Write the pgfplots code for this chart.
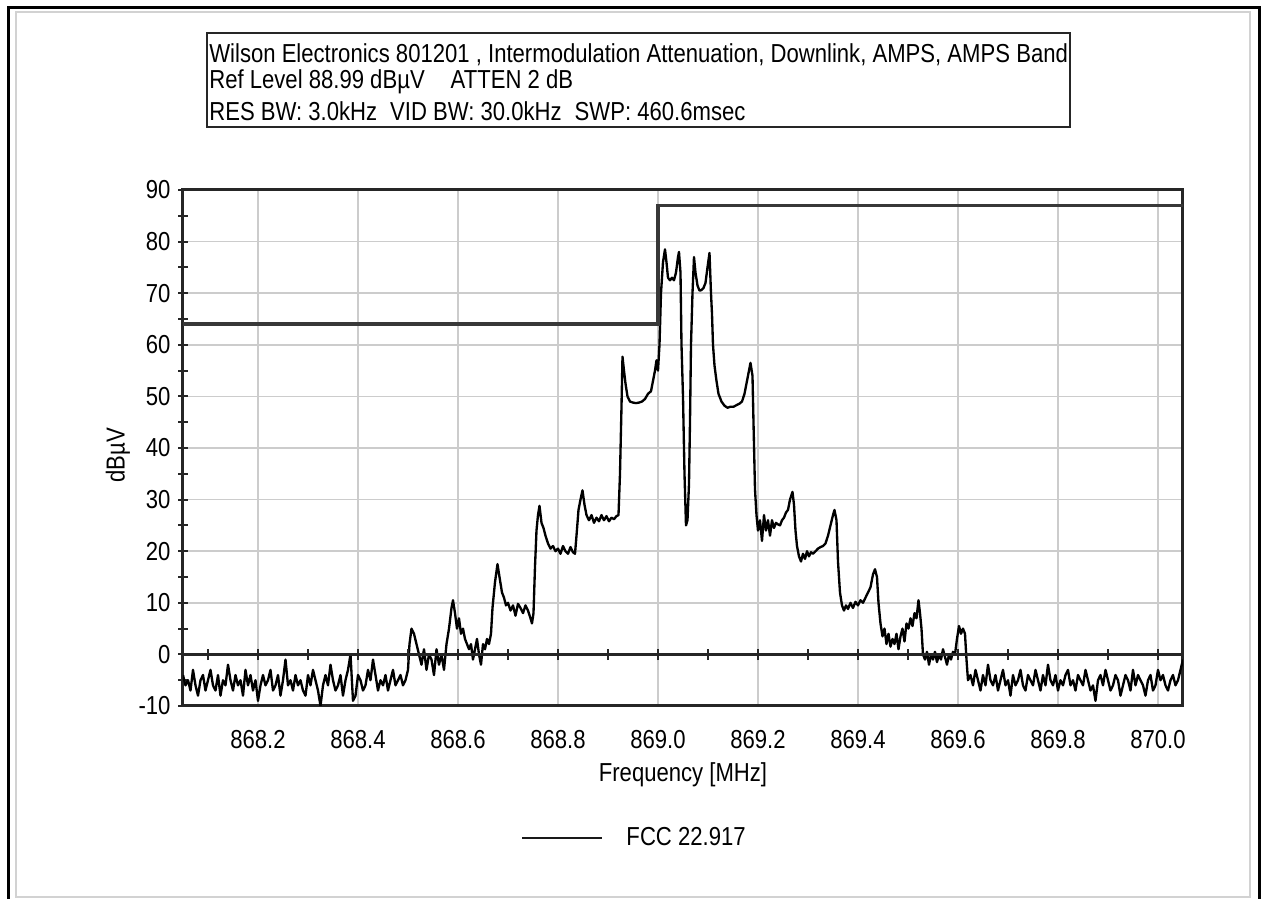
\documentclass[border=0pt]{standalone}
\usepackage{pgfplots}
\pgfplotsset{compat=1.18}
\usepackage{pgfplotstable}
\usepackage{fontspec}
\setmainfont{Liberation Sans}[FakeStretch=0.85]
\newcommand\F{\fontsize{15.6pt}{18.5pt}\selectfont}

\pgfplotstableread{
f v
868.050 -4
868.055 -6
868.060 -5
868.065 -7
868.070 -3
868.075 -6
868.080 -8
868.085 -5
868.090 -4
868.095 -7
868.100 -5
868.105 -3
868.110 -6
868.115 -7
868.120 -4
868.125 -8
868.130 -5
868.135 -6
868.140 -2
868.145 -5
868.150 -7
868.155 -4
868.160 -6
868.165 -5
868.170 -8
868.175 -3
868.180 -6
868.185 -4
868.190 -7
868.195 -5
868.200 -9
868.205 -6
868.210 -4
868.215 -6
868.220 -5
868.225 -3
868.230 -7
868.235 -6
868.240 -4
868.245 -8
868.250 -5
868.255 -1
868.260 -6
868.265 -5
868.270 -7
868.275 -4
868.280 -6
868.285 -5
868.290 -7
868.295 -8
868.300 -4
868.305 -6
868.310 -3
868.315 -5
868.320 -7
868.325 -10
868.330 -6
868.335 -4
868.340 -6
868.345 -2
868.350 -5
868.355 -7
868.360 -6
868.365 -4
868.370 -8
868.375 -5
868.380 -3
868.385 0
868.390 -9
868.395 -8
868.400 -4
868.405 -5
868.410 -7
868.415 -6
868.420 -3
868.425 -5
868.430 -1
868.435 -4
868.440 -7
868.445 -5
868.450 -6
868.455 -4
868.460 -7
868.465 -5
868.470 -3
868.475 -6
868.480 -5
868.485 -4
868.490 -6
868.495 -5
868.500 -3
868.503 2
868.507 5
868.512 4
868.517 2
868.522 0
868.527 -2
868.532 1
868.537 -3
868.542 0
868.547 -1
868.552 -4
868.557 1
868.562 -2
868.567 0
868.572 -3
868.577 2
868.582 5
868.587 9
868.590 10.5
868.594 8
868.598 5
868.602 7
868.606 4
868.610 5
868.614 3
868.618 2
868.622 1
868.626 2
868.630 -1
868.634 1
868.638 3
868.642 0
868.646 -2
868.650 2
868.654 1
868.658 3
868.662 2
868.666 4
868.669 9
868.674 14
868.679 17.5
868.683 15
868.688 12
868.692 11
868.696 9.5
868.700 10
868.705 8.5
868.710 9.5
868.715 7.5
868.720 9.8
868.725 9
868.730 8
868.735 9.5
868.740 8.5
868.745 7
868.748 6
868.751 8
868.754 17
868.757 24
868.760 27
868.763 28.8
868.767 25.5
868.771 24.5
868.775 23
868.780 21.5
868.785 20.5
868.790 21
868.795 20
868.800 20.5
868.805 19.5
868.810 21
868.815 20
868.820 19.5
868.825 20.8
868.830 19.8
868.834 19.5
868.837 23
868.841 28
868.845 30
868.849 31.8
868.853 29
868.857 27
868.862 26
868.867 27
868.872 25.5
868.877 26.5
868.882 25.8
868.887 27
868.892 26
868.897 26.8
868.902 25.8
868.907 26.5
868.912 26.2
868.917 26.8
868.921 27
868.924 35
868.927 48
868.929 57.7
868.932 55
868.935 52.5
868.939 50
868.944 49
868.950 48.8
868.956 48.7
868.962 48.8
868.968 49
868.974 49.5
868.980 50.5
868.986 51
868.990 53
868.994 55
868.997 57
869.000 55
869.003 60
869.006 70
869.010 76
869.014 78.5
869.017 76
869.020 73
869.024 72.5
869.028 73
869.032 72.5
869.036 74
869.040 77
869.042 78
869.045 74
869.047 60
869.050 50
869.053 35
869.056 25
869.059 26
869.062 33
869.064 45
869.066 60
869.069 70
869.072 77
869.075 74
869.079 71.5
869.083 70.5
869.087 70.6
869.091 71
869.095 72
869.099 75
869.103 77.8
869.106 70
869.108 66
869.110 60
869.113 56
869.117 53
869.121 50.5
869.127 49
869.133 48.2
869.139 47.8
869.145 48
869.151 48
869.157 48.3
869.163 48.6
869.168 49
869.173 50.5
869.178 53
869.182 55
869.185 56.5
869.189 54
869.191 45
869.194 32
869.197 27
869.200 24
869.204 26
869.208 22
869.212 27
869.216 24
869.220 26
869.224 23
869.228 26
869.232 24.5
869.236 25.5
869.240 25.2
869.244 25
869.248 26
869.252 26.5
869.256 27.5
869.260 28
869.264 30
869.269 31.5
869.272 29
869.275 24
869.278 21
869.282 19
869.286 18
869.290 19.5
869.294 18.5
869.298 20
869.302 19
869.306 19.8
869.310 19.5
869.315 20
869.320 20.5
869.325 20.8
869.330 21
869.335 21.5
869.340 23
869.345 25
869.350 27
869.353 28
869.357 26
869.360 18
869.364 12
869.368 9.5
869.372 8.5
869.376 9.5
869.380 8.8
869.385 10
869.390 9
869.395 10.2
869.400 9.5
869.405 10.5
869.410 10
869.415 11
869.420 12
869.425 13
869.430 15.5
869.434 16.5
869.438 15
869.441 10
869.445 6
869.449 3.5
869.453 5
869.457 2
869.461 4
869.465 1.5
869.469 3
869.473 2
869.477 4
869.481 1
869.485 3.5
869.489 5
869.493 2.5
869.497 6
869.501 5
869.505 7
869.509 5.5
869.513 8
869.517 7
869.521 10.5
869.524 8
869.527 5
869.530 0
869.534 -1
869.538 0.5
869.542 -2
869.546 0
869.550 -1
869.554 0.5
869.558 -1.5
869.562 0
869.566 -1
869.570 1
869.574 -0.5
869.578 -2
869.582 0
869.586 -1
869.590 0.5
869.594 0
869.598 3
869.602 5.5
869.606 4
869.610 5
869.614 4
869.617 -1
869.620 -5
869.625 -4
869.630 -6
869.635 -3
869.640 -5
869.645 -7
869.650 -4
869.655 -6
869.660 -2
869.665 -5
869.670 -6
869.675 -4
869.680 -7
869.685 -5
869.690 -3
869.695 -6
869.700 -5
869.705 -8
869.710 -4
869.715 -6
869.720 -5
869.725 -3
869.730 -6
869.735 -7
869.740 -4
869.745 -5
869.750 -6
869.755 -3
869.760 -5
869.765 -7
869.770 -4
869.775 -6
869.780 -2
869.785 -5
869.790 -6
869.795 -4
869.800 -7
869.805 -5
869.810 -6
869.815 -4
869.820 -3
869.825 -6
869.830 -5
869.835 -7
869.840 -4
869.845 -5
869.850 -6
869.855 -3
869.860 -5
869.865 -7
869.870 -6
869.875 -9
869.880 -5
869.885 -4
869.890 -6
869.895 -3
869.900 -5
869.905 -7
869.910 -6
869.915 -4
869.920 -5
869.925 -8
869.930 -6
869.935 -4
869.940 -5
869.945 -7
869.950 -3
869.955 -6
869.960 -4
869.965 -5
869.970 -6
869.975 -8
869.980 -5
869.985 -4
869.990 -7
869.995 -6
870.000 -3
870.005 -5
870.010 -4
870.015 -6
870.020 -7
870.025 -5
870.030 -4
870.035 -6
870.040 -5
870.045 -3
870.050 -1
}\spec

\begin{document}
\begin{tikzpicture}[x=0.6pt,y=-0.6pt,font=\F]
\useasboundingbox (0,0) rectangle (1268,899);
% outer frames
\draw[gray!35, line width=1.2pt] (16,897) -- (16,12) -- (1250,12) -- (1250,897) -- cycle;
\draw[black, line width=1.8pt] (8,899) -- (8,7) -- (1259,7) -- (1259,899);
% title box
\draw[black!85, line width=1.1pt] (207,33) rectangle (1070,127);
\node[anchor=west, inner sep=0pt] at (209,55) {Wilson Electronics 801201 , Intermodulation Attenuation, Downlink, AMPS, AMPS Band};
\node[anchor=west, inner sep=0pt] at (209,82) {Ref Level 88.99 dBµV\quad ATTEN 2 dB};
\node[anchor=west, inner sep=0pt] at (209,111) {RES BW: 3.0kHz\enspace VID BW: 30.0kHz\enspace SWP: 460.6msec};

\begin{axis}[
  at={(109.8pt,-423.6pt)}, anchor=south west,
  scale only axis, width=600pt, height=309.6pt,
  xmin=868.05, xmax=870.05, ymin=-10, ymax=90,
  xtick={868.2,868.4,868.6,868.8,869.0,869.2,869.4,869.6,869.8,870.0},
  xticklabels={868.2,868.4,868.6,868.8,869.0,869.2,869.4,869.6,869.8,870.0},
  ytick={-10,0,10,20,30,40,50,60,70,80,90},
  yticklabels={-10,0,10,20,30,40,50,60,70,80,90},
  minor ytick={-5,5,15,25,35,45,55,65,75,85},
  grid=major,
  major grid style={gray!40, line width=1.0pt},
  xtick style={draw=none},
  ytick style={black!85, line width=1.1pt},
  ytick pos=left,
  ytick align=center,
  major tick length=6pt, minor tick length=6pt,
  axis line style={black!85, line width=1.8pt},
  tick label style={font=\F},
  xticklabel style={yshift=-11pt},
  yticklabel style={xshift=-1pt},
  xlabel={Frequency [MHz]},
  ylabel={dBµV},
  label style={font=\F},
  xlabel style={at={(axis description cs:0.5,-0.134)}, anchor=center},
  ylabel style={at={(axis description cs:-0.065,0.486)}, anchor=center, rotate=0},
  legend style={at={(axis description cs:0.452,-0.256)}, anchor=center, draw=none, fill=none, font=\F, column sep=12pt},
  legend image code/.code={\draw[black!90, line width=1.3pt] (0pt,0pt) -- (48pt,0pt);},
]
\addplot[black, line width=1.4pt, line join=round, forget plot] table[x=f,y=v]{\spec};
\addplot[black!78, line width=2pt] coordinates {(868.05,64) (869.0,64) (869.0,87) (870.05,87)};
\addlegendentry{FCC 22.917}
\end{axis}

\begin{axis}[
  at={(109.8pt,-423.6pt)}, anchor=south west,
  scale only axis, width=600pt, height=309.6pt,
  xmin=868.05, xmax=870.05, ymin=-10, ymax=90,
  axis x line=middle, axis y line=none,
  xtick={868.1,868.2,868.3,868.4,868.5,868.6,868.7,868.8,868.9,869.0,869.1,869.2,869.3,869.4,869.5,869.6,869.7,869.8,869.9,870.0},
  xticklabels={}, ytick=\empty,
  xtick align=center, major tick length=7pt,
  xtick style={black!85, line width=1.1pt},
  axis line style={black!85, line width=1.8pt, -},
]
\end{axis}
\end{tikzpicture}
\end{document}
